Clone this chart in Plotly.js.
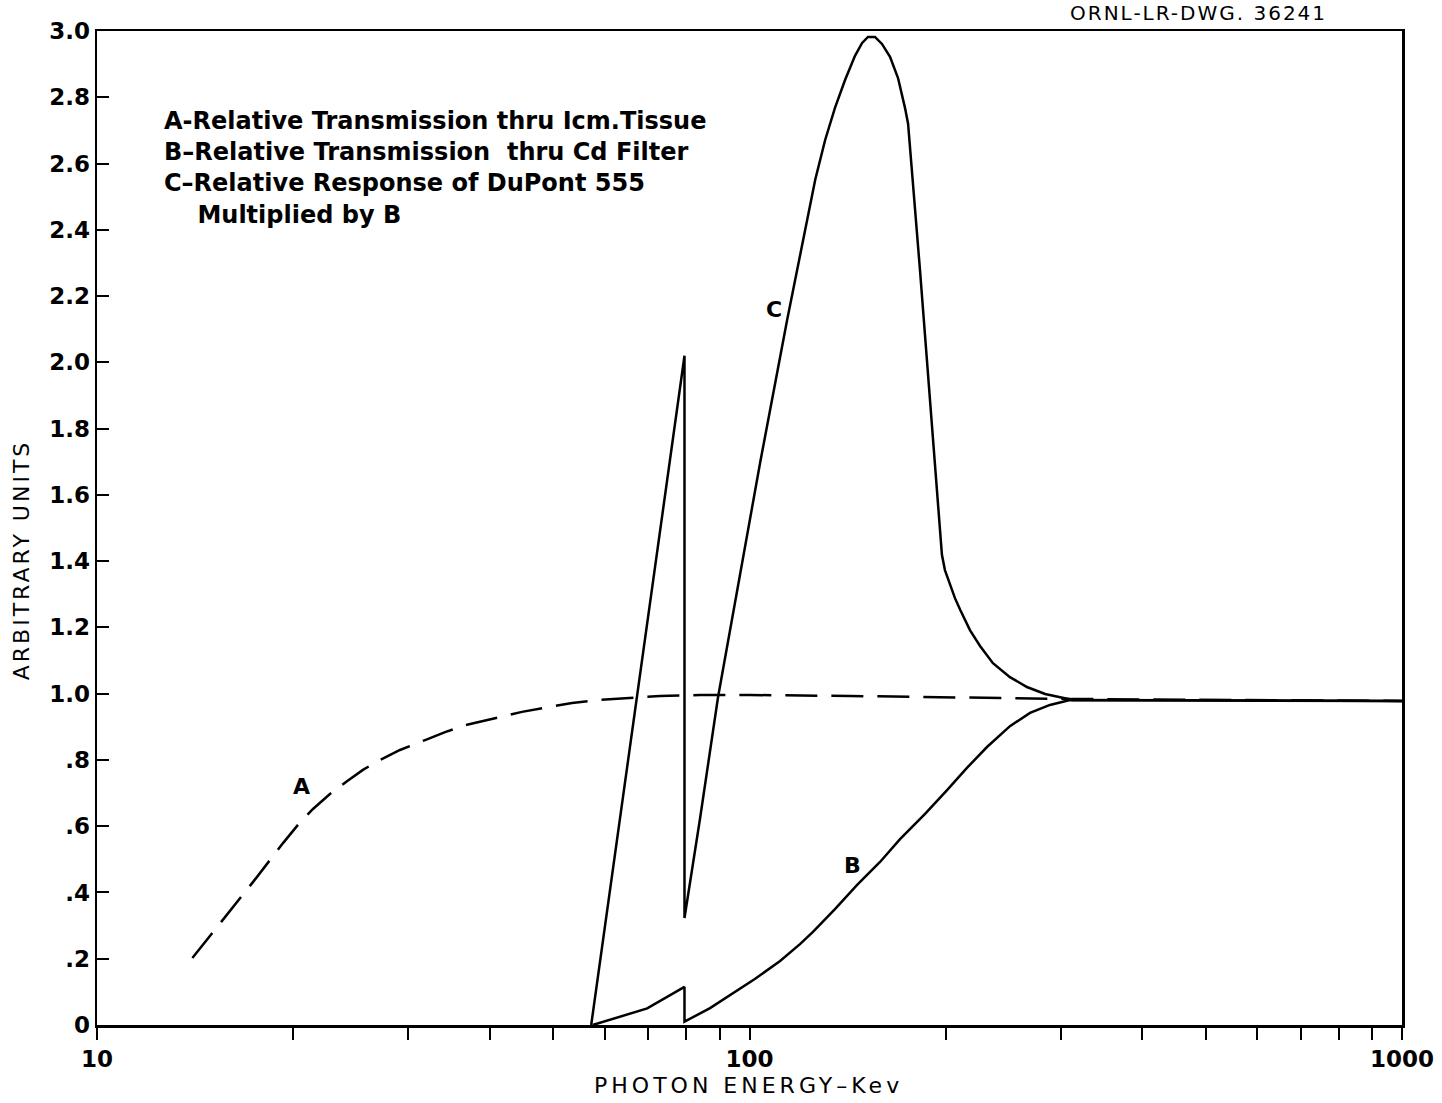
<!DOCTYPE html>
<html>
<head>
<meta charset="utf-8">
<script src="https://cdn.plot.ly/plotly-3.0.1.min.js"></script>
<style>
  html, body { margin: 0; padding: 0; background: #fff; }
  #chart { width: 1442px; height: 1103px; }
</style>
</head>
<body>
<div id="chart"></div>
<script>
// ---- Data (photon energy in keV, arbitrary units) ----
// Curve A: relative transmission through 1 cm tissue (dashed)
const aEnergy = [14.0, 15.6, 17.35, 19.28, 20.32, 21.43, 22.75, 24.16, 25.56, 27.15, 29.13, 31.83, 34.15, 36.9, 40.74, 44.8, 49.46, 53.46, 59.02, 64.92, 72.93, 84.0, 100, 142.6, 202.9, 309.8, 1000];
const aValue  = [0.202, 0.317, 0.432, 0.549, 0.604, 0.652, 0.697, 0.736, 0.770, 0.800, 0.830, 0.860, 0.884, 0.906, 0.927, 0.945, 0.960, 0.972, 0.981, 0.987, 0.993, 0.996, 0.996, 0.993, 0.989, 0.984, 0.978];

// Curve B: relative transmission through Cd filter
const bEnergy = [57.5, 69.7, 79.5, 79.5, 87.0, 93.3, 101.9, 111.4, 119.5, 125.1, 135.2, 146.2, 158.5, 170.1, 185.8, 200.8, 215.4, 231.2, 242.1, 250.7, 269.1, 288.7, 309.8, 500, 1000];
const bValue  = [0.0, 0.05, 0.115, 0.01, 0.051, 0.091, 0.139, 0.193, 0.244, 0.281, 0.350, 0.423, 0.492, 0.561, 0.637, 0.709, 0.776, 0.839, 0.875, 0.902, 0.942, 0.966, 0.981, 0.979, 0.978];

// Curve C: relative response of DuPont 555 multiplied by B
const cEnergy = [57.2, 79.5, 79.5, 84.0, 89.5, 96.7, 103.8, 114.2, 121.7, 126.1, 130.6, 135.2, 140.1, 145.1, 148.8, 151.9, 155.7, 159.6, 164.2, 168.9, 173.1, 175.0, 182.5, 189.1, 193.1, 195.9, 197.2, 199.3, 202.9, 206.4, 210.3, 217.7, 225.6, 236.1, 250.7, 266.2, 283.8, 313.2, 500, 1000];
const cValue  = [0.0, 2.02, 0.323, 0.624, 0.990, 1.364, 1.696, 2.128, 2.406, 2.551, 2.671, 2.768, 2.852, 2.925, 2.964, 2.982, 2.982, 2.961, 2.922, 2.858, 2.768, 2.720, 2.279, 1.887, 1.645, 1.479, 1.419, 1.373, 1.328, 1.289, 1.253, 1.192, 1.144, 1.092, 1.050, 1.020, 0.999, 0.981, 0.979, 0.978];

// Tick labels
const yTickVals  = [0, 0.2, 0.4, 0.6, 0.8, 1.0, 1.2, 1.4, 1.6, 1.8, 2.0, 2.2, 2.4, 2.6, 2.8, 3.0];
const yTickText  = ["0", ".2", ".4", ".6", ".8", "1.0", "1.2", "1.4", "1.6", "1.8", "2.0", "2.2", "2.4", "2.6", "2.8", "3.0"];
const xTickVals  = [10, 100, 1000];
const xTickText  = ["10", "100", "1000"];
const xMinorVals = [20, 30, 40, 50, 60, 70, 80, 90, 200, 300, 400, 500, 600, 700, 800, 900];

const legendLines = [
  "A-Relative Transmission thru Icm.Tissue",
  "B\u2013Relative Transmission  thru Cd Filter",
  "C\u2013Relative Response of DuPont 555",
  "    Multiplied by B"
];
const xTitle = "PHOTON ENERGY\u2013Kev";
const yTitle = "ARBITRARY UNITS";
const dwgNumber = "ORNL-LR-DWG. 36241";

const FONT = "DejaVu Sans, Arial, sans-serif";
const lineStyle = { color: "#000", width: 2.5 };

const traces = [
  { x: aEnergy, y: aValue, mode: "lines", line: { color: "#000", width: 2.5, dash: "32px,14px" }, hoverinfo: "skip" },
  { x: bEnergy, y: bValue, mode: "lines", line: lineStyle, hoverinfo: "skip" },
  { x: cEnergy, y: cValue, mode: "lines", line: lineStyle, hoverinfo: "skip" }
];

const layout = {
  width: 1442, height: 1103,
  margin: { l: 97, r: 40, t: 31, b: 78 },
  paper_bgcolor: "#fff", plot_bgcolor: "#fff",
  showlegend: false,
  font: { family: FONT, color: "#000", size: 22 },
  xaxis: {
    type: "log", range: [1, 3],
    showgrid: false, zeroline: false,
    showline: true, linecolor: "#000", linewidth: 2.5, mirror: true,
    ticks: "outside", ticklen: 12, tickwidth: 2, tickcolor: "#000",
    tickmode: "array", tickvals: xTickVals, ticktext: xTickText,
    tickfont: { family: FONT, size: 23, weight: "bold" },
    minor: { tickmode: "array", tickvals: xMinorVals, ticks: "outside", ticklen: 12, tickwidth: 2, tickcolor: "#000", showgrid: false }
  },
  yaxis: {
    range: [0, 3.0],
    showgrid: false, zeroline: false,
    showline: true, linecolor: "#000", linewidth: 2.5, mirror: true,
    ticks: "inside", ticklen: 12, tickwidth: 2, tickcolor: "#000",
    tickmode: "array", tickvals: yTickVals, ticktext: yTickText,
    tickfont: { family: FONT, size: 23, weight: "bold" }
  },
  annotations: [
    { xref: "paper", yref: "paper", x: 0.0495, y: 0.926, xanchor: "left", yanchor: "top", align: "left",
      showarrow: false, text: legendLines.join("<br>"),
      font: { family: FONT, size: 24, weight: "bold" } },
    { xref: "x", yref: "y", x: Math.log10(20.6), y: 0.72, text: "A", showarrow: false, font: { family: FONT, size: 22, weight: "bold" } },
    { xref: "x", yref: "y", x: Math.log10(143.6), y: 0.48, text: "B", showarrow: false, font: { family: FONT, size: 22, weight: "bold" } },
    { xref: "x", yref: "y", x: Math.log10(109.0), y: 2.16, text: "C", showarrow: false, font: { family: FONT, size: 22, weight: "bold" } },
    { xref: "paper", yref: "paper", x: 0.8437, y: 1.0312, xanchor: "center", yanchor: "top", borderpad: 0,
      showarrow: false, text: dwgNumber, font: { family: FONT, size: 20 } },
    { xref: "paper", yref: "paper", x: 0.4996, y: -0.0604, xanchor: "center", yanchor: "middle",
      showarrow: false, text: xTitle, font: { family: FONT, size: 22 } },
    { xref: "paper", yref: "paper", x: -0.0575, y: 0.468, xanchor: "center", yanchor: "middle", textangle: -90,
      showarrow: false, text: yTitle, font: { family: FONT, size: 22 } }
  ]
};

Plotly.newPlot("chart", traces, layout, { staticPlot: true, displayModeBar: false }).then(function (gd) {
  // widen letter spacing of the hand-lettered axis titles
  gd.querySelectorAll(".annotation-text").forEach(function (t) {
    const s = t.textContent;
    if (s === xTitle) t.style.letterSpacing = "4px";
    if (s === yTitle) t.style.letterSpacing = "3px";
    if (s === dwgNumber) t.style.letterSpacing = "2px";
  });
});
</script>
</body>
</html>
